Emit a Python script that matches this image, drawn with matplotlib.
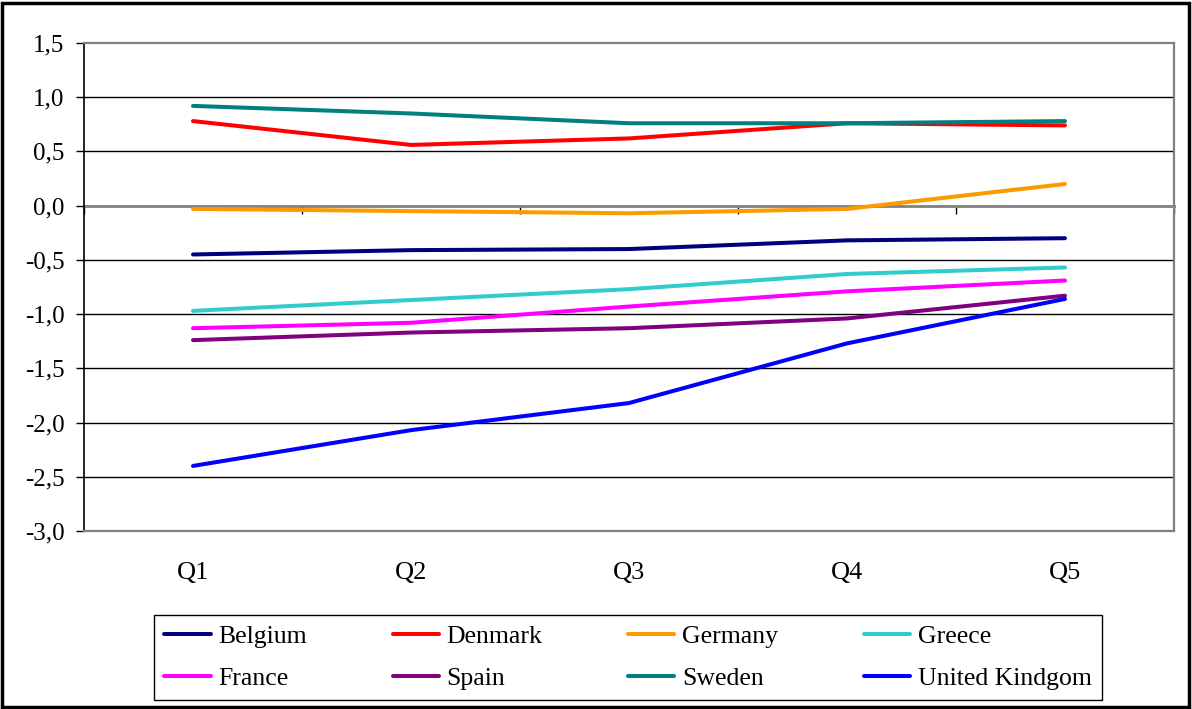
import matplotlib
matplotlib.use("Agg")
import matplotlib.pyplot as plt
from matplotlib.patches import Rectangle
from matplotlib.ticker import FuncFormatter

# Quintile categories and country series
categories = ["Q1", "Q2", "Q3", "Q4", "Q5"]
belgium = [-0.45, -0.41, -0.40, -0.32, -0.30]
denmark = [0.78, 0.56, 0.62, 0.76, 0.74]
germany = [-0.03, -0.05, -0.07, -0.03, 0.20]
greece = [-0.97, -0.87, -0.77, -0.63, -0.57]
france = [-1.13, -1.08, -0.93, -0.79, -0.69]
spain = [-1.24, -1.17, -1.13, -1.04, -0.83]
sweden = [0.92, 0.85, 0.76, 0.76, 0.78]
united_kingdom = [-2.40, -2.07, -1.82, -1.27, -0.86]

series = [
    ("Belgium", belgium, "#000080"),
    ("Denmark", denmark, "#FF0000"),
    ("Germany", germany, "#FF9900"),
    ("Greece", greece, "#33CCCC"),
    ("France", france, "#FF00FF"),
    ("Spain", spain, "#800080"),
    ("Sweden", sweden, "#008080"),
    ("United Kindgom", united_kingdom, "#0000FF"),
]

y_ticks = [1.5, 1.0, 0.5, 0.0, -0.5, -1.0, -1.5, -2.0, -2.5, -3.0]

plt.rcParams["font.family"] = ["Liberation Serif", "DejaVu Serif"]

fig = plt.figure(figsize=(11.92, 7.09), dpi=100)
ax = fig.add_axes([84 / 1192, 1 - 531 / 709, (1174 - 84) / 1192, (531 - 43) / 709])

x = list(range(len(categories)))
handles = []
for name, vals, col in series:
    h, = ax.plot(x, vals, color=col, lw=2.9, solid_capstyle="round",
                 solid_joinstyle="round", label=name, zorder=3)
    handles.append(h)

ax.set_xlim(-0.5, len(categories) - 0.5)
ax.set_ylim(-3.0, 1.5)

# horizontal gridlines
for yv in y_ticks:
    if yv not in (1.5, 0.0, -3.0):
        ax.axhline(yv, color="black", lw=1.0, zorder=1)

ax.set_yticks(y_ticks)
ax.yaxis.set_major_formatter(FuncFormatter(lambda v, p: f"{v:.1f}".replace(".", ",")))
ax.tick_params(axis="y", direction="out", length=6, width=1, pad=8,
               labelsize=18, colors="black")

ax.set_xticks(x)
ax.set_xticklabels(categories)
ax.tick_params(axis="x", length=0, pad=22, labelsize=19)

for side in ("top", "right", "bottom"):
    ax.spines[side].set_color("#808080")
    ax.spines[side].set_linewidth(1.6)
ax.spines["left"].set_color("black")
ax.spines["left"].set_linewidth(1.2)

# category axis crossing at zero, with ticks between categories
zero_pos = (0.0 - (-3.0)) / (1.5 - (-3.0))
sec = ax.secondary_xaxis(zero_pos)
for side in ("top", "bottom"):
    sec.spines[side].set_color("#808080")
    sec.spines[side].set_linewidth(2.0)
sec.set_xticks([i + 0.5 for i in range(-1, len(categories))])
sec.set_xticklabels([])
sec.tick_params(axis="x", direction="in", length=6, width=1, colors="black")

# legend laid out row by row
order = [0, 4, 1, 5, 2, 6, 3, 7]
leg = fig.legend([handles[i] for i in order], [series[i][0] for i in order],
                 ncol=4, loc="center",
                 bbox_to_anchor=(154 / 1192, 1 - 701 / 709, (1102 - 154) / 1192, 87 / 709),
                 mode="expand", fontsize=18.5, frameon=True, fancybox=False,
                 edgecolor="black", framealpha=1, handlelength=1.8,
                 handletextpad=0.3, borderpad=0.4, labelspacing=0.75,
                 borderaxespad=0)
leg.get_frame().set_linewidth(1.0)

# outer chart border
fig.patches.append(Rectangle((2 / 1192, 2 / 709), 1 - 5 / 1192, 1 - 5 / 709,
                             transform=fig.transFigure, fill=False,
                             edgecolor="black", lw=2.5))

fig.savefig("out.png", dpi=100)
